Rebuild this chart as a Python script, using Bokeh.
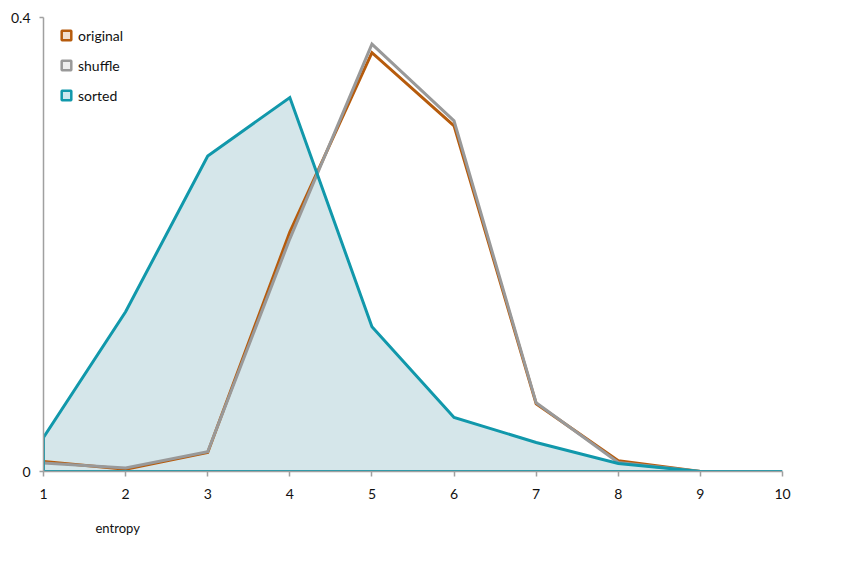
import math
from bokeh.plotting import figure
from bokeh.models import (ColumnDataSource, FixedTicker, Legend, LegendItem, Title,
                          Range1d)
from bokeh.embed import file_html
from bokeh.resources import INLINE

# ---- data ----
entropy = [1, 2, 3, 4, 5, 6, 7, 8, 9, 10]
original = [0.0088, 0.0020, 0.0167, 0.211, 0.369, 0.3046, 0.0597, 0.0094, 0.0, math.nan]
shuffle = [0.0074, 0.0030, 0.0174, 0.205, 0.3766, 0.309, 0.0605, 0.0079, 0.0, math.nan]
sorted_ = [0.030, 0.1407, 0.278, 0.3295, 0.1275, 0.0476, 0.0256, 0.0070, 0.0, 0.0]
y_ticks = [0, 0.4]
y_tick_labels = ["0", "0.4"]
x_ticks = [1, 2, 3, 4, 5, 6, 7, 8, 9, 10]
series_names = ["original", "shuffle", "sorted"]
x_title = "entropy"

# ---- styles ----
C_ORIG = "#b65b0c"
C_SHUF = "#999999"
C_SORT = "#1198ab"
C_FILL = "#d5e6ea"
AX = "#a0a0a0"
FONT = "Lato"

W, H = 830, 552
p = figure(width=W, height=H, output_backend="svg", toolbar_location=None,
           x_range=Range1d(1, 10), y_range=Range1d(0, 0.4),
           min_border_left=43, min_border_right=48, min_border_top=17,
           min_border_bottom=81)
p.outline_line_color = None
p.background_fill_color = "white"
p.border_fill_color = "white"

src = ColumnDataSource(dict(x=entropy, orig=original, shuf=shuffle, sort=sorted_,
                            zero=[0.0] * len(entropy)))

# sorted area fill + outline
p.varea(x="x", y1="zero", y2="sort", source=src, fill_color=C_FILL)
p.line(x="x", y="orig", source=src, line_color=C_ORIG, line_width=3, line_join="miter")
p.line(x="x", y="shuf", source=src, line_color=C_SHUF, line_width=3, line_join="miter")
px = list(entropy) + [entropy[-1], entropy[0], entropy[0]]
py = list(sorted_) + [0.0, 0.0, sorted_[0]]
p.line(x=px, y=py, line_color=C_SORT, line_width=3, line_join="miter")

# legend dummies
r_o = p.scatter(x=[math.nan], y=[math.nan], marker="square", size=10,
                line_color=C_ORIG, fill_color="#f1dfcf", line_width=2.5)
r_s = p.scatter(x=[math.nan], y=[math.nan], marker="square", size=10,
                line_color=C_SHUF, fill_color="#eeeeee", line_width=2.5)
r_t = p.scatter(x=[math.nan], y=[math.nan], marker="square", size=10,
                line_color=C_SORT, fill_color="#cde8ee", line_width=2.5)
legend = Legend(items=[LegendItem(label=series_names[0], renderers=[r_o]),
                       LegendItem(label=series_names[1], renderers=[r_s]),
                       LegendItem(label=series_names[2], renderers=[r_t])],
                location=(11, 364), orientation="vertical",
                glyph_width=24, glyph_height=24, label_height=24,
                spacing=6, padding=0, margin=0, label_standoff=0,
                border_line_color=None, background_fill_alpha=0,
                label_text_font=FONT, label_text_font_size="14px",
                label_text_color="#111111")
p.add_layout(legend)

# axes
p.xaxis.ticker = FixedTicker(ticks=x_ticks)
p.yaxis.ticker = FixedTicker(ticks=y_ticks)
p.yaxis.major_label_overrides = {t: s for t, s in zip(y_ticks, y_tick_labels)}
for ax in (p.xaxis, p.yaxis):
    ax.axis_line_color = AX
    ax.axis_line_width = 1.5
    ax.major_tick_line_color = AX
    ax.major_tick_line_width = 1.5
    ax.major_tick_in = 0
    ax.minor_tick_line_color = None
    ax.major_label_text_font = FONT
    ax.major_label_text_font_size = "14px"
    ax.major_label_text_color = "#111111"
p.xaxis.major_tick_out = 5
p.xaxis.major_label_standoff = 12
p.yaxis.major_tick_out = 4
p.yaxis.major_label_standoff = 9

p.xgrid.grid_line_color = None
p.ygrid.ticker = FixedTicker(ticks=[0.4])
p.ygrid.grid_line_color = AX
p.ygrid.grid_line_width = 1.5

p.add_layout(Title(text=x_title, align="left", offset=52, standoff=33,
                   text_font=FONT, text_font_size="13px", text_font_style="normal",
                   text_color="#111111"), "below")

open("out.html", "w").write(file_html(p, INLINE))
